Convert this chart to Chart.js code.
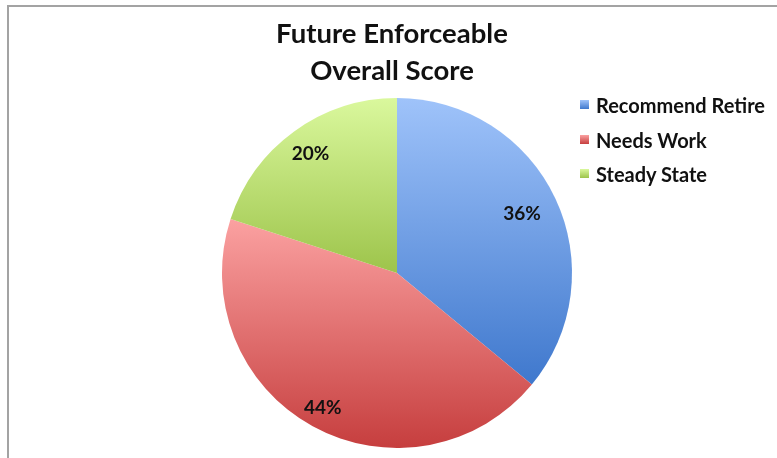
<!DOCTYPE html>
<html>
<head>
<meta charset="utf-8">
<script src="https://cdn.jsdelivr.net/npm/chart.js@4/dist/chart.umd.min.js"></script>
<style>
  body { margin: 0; background: #fff; }
  #wrap { position: relative; width: 777px; height: 458px; overflow: hidden; font-family: Lato, "Open Sans", sans-serif; }
  #frame { position: absolute; left: 7px; top: 5px; width: 820px; height: 520px; border: 2px solid #a3a3a3; }
  #chart { position: absolute; left: 0; top: 0; }
  #title { position: absolute; left: 242px; width: 300px; top: 14px; text-align: center;
           font-weight: bold; font-size: 27.5px; line-height: 37px; color: #111; }
  #legend { position: absolute; left: 580px; top: 94px; }
  .row { height: 34.5px; display: flex; align-items: flex-start; font-weight: bold; font-size: 20px; color: #111; line-height: 22px; }
  .box { width: 9px; height: 9px; margin: 6px 7px 0 0; }
</style>
</head>
<body>
<div id="wrap">
  <div id="frame"></div>
  <canvas id="chart" width="777" height="458"></canvas>
  <div id="title"></div>
  <div id="legend"></div>
</div>
<script>
// data
const titleLines = ["Future Enforceable", "Overall Score"];
const categories = ["Recommend Retire", "Needs Work", "Steady State"];
const shares = [36, 44, 20];

// top / bottom colours of each slice gradient
const topColors = ["#9fc3fa", "#fba1a1", "#daf89d"];
const bottomColors = ["#3f78cd", "#c63e3e", "#9dc44b"];
const labelRadius = [0.79, 0.88, 0.84];

document.getElementById("title").innerHTML = titleLines.join("<br>");

const legendEl = document.getElementById("legend");
categories.forEach((c, i) => {
  const row = document.createElement("div");
  row.className = "row";
  const box = document.createElement("div");
  box.className = "box";
  box.style.background = `linear-gradient(${topColors[i]}, ${bottomColors[i]})`;
  const txt = document.createElement("span");
  txt.textContent = c;
  row.appendChild(box);
  row.appendChild(txt);
  legendEl.appendChild(row);
});

// vertical extent of a pie sector
function sectorYRange(cy, r, a0, a1) {
  const ys = [cy, cy + r * Math.sin(a0), cy + r * Math.sin(a1)];
  const hits = (a) => {
    for (let k = -2; k <= 2; k++) {
      const t = a + k * 2 * Math.PI;
      if (t >= a0 && t <= a1) return true;
    }
    return false;
  };
  if (hits(-Math.PI / 2)) ys.push(cy - r);
  if (hits(Math.PI / 2)) ys.push(cy + r);
  return [Math.min(...ys), Math.max(...ys)];
}

function sliceFill(context) {
  const chart = context.chart;
  const area = chart.chartArea;
  const i = context.dataIndex;
  if (!area) return topColors[i];
  const total = shares.reduce((a, b) => a + b, 0);
  let before = 0;
  for (let k = 0; k < i; k++) before += shares[k];
  const a0 = -Math.PI / 2 + 2 * Math.PI * before / total;
  const a1 = a0 + 2 * Math.PI * shares[i] / total;
  const cy = (area.top + area.bottom) / 2;
  const r = Math.min(area.right - area.left, area.bottom - area.top) / 2;
  const [y0, y1] = sectorYRange(cy, r, a0, a1);
  const g = chart.ctx.createLinearGradient(0, y0, 0, y1);
  g.addColorStop(0, topColors[i]);
  g.addColorStop(1, bottomColors[i]);
  return g;
}

const pctLabels = {
  id: "pctLabels",
  afterDatasetsDraw(chart) {
    const ctx = chart.ctx;
    const meta = chart.getDatasetMeta(0);
    ctx.save();
    ctx.font = "bold 19px Lato, 'Open Sans', sans-serif";
    ctx.fillStyle = "#111";
    ctx.textAlign = "center";
    ctx.textBaseline = "middle";
    meta.data.forEach((arc, i) => {
      const mid = (arc.startAngle + arc.endAngle) / 2;
      const rr = arc.outerRadius * labelRadius[i];
      ctx.fillText(shares[i] + "%", arc.x + rr * Math.cos(mid), arc.y + rr * Math.sin(mid));
    });
    ctx.restore();
  }
};

new Chart(document.getElementById("chart").getContext("2d"), {
  type: "pie",
  data: {
    labels: categories,
    datasets: [{
      data: shares,
      backgroundColor: sliceFill,
      borderWidth: 0
    }]
  },
  options: {
    responsive: false,
    animation: false,
    layout: { padding: { left: 222, right: 205, top: 98, bottom: 10 } },
    plugins: {
      legend: { display: false },
      title: { display: false },
      tooltip: { enabled: false }
    }
  },
  plugins: [pctLabels]
});
</script>
</body>
</html>
